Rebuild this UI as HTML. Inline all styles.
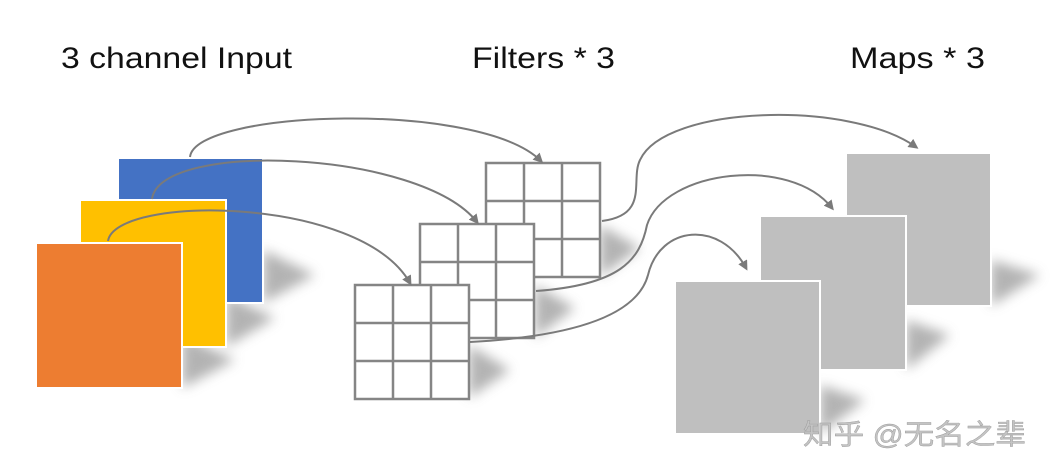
<!DOCTYPE html>
<html><head><meta charset="utf-8"><style>
html,body{margin:0;padding:0;background:#fff;}
svg{display:block;}
</style></head><body>
<svg width="1053" height="476" viewBox="0 0 1053 476" xmlns="http://www.w3.org/2000/svg">
<defs>
<filter id="b" x="-50%" y="-50%" width="200%" height="200%"><feGaussianBlur stdDeviation="6"/></filter>
<marker id="ar" markerWidth="10" markerHeight="10" refX="7" refY="5" orient="auto" markerUnits="userSpaceOnUse">
<path d="M0,0 L10,5 L0,10 z" fill="#7a7a7a"/></marker>
<g id="grid">
<rect x="0" y="0" width="114" height="114" fill="#fff" stroke="#858585" stroke-width="2.5"/>
<path d="M38,0V114M76,0V114M0,38H114M0,76H114" stroke="#858585" stroke-width="2.5"/>
</g>
</defs>
<g font-family="'Liberation Sans','DejaVu Sans',sans-serif" font-size="30" fill="#111">
<text x="61" y="68" textLength="231" lengthAdjust="spacingAndGlyphs">3 channel Input</text>
<text x="472" y="68" textLength="143" lengthAdjust="spacingAndGlyphs">Filters * 3</text>
<text x="850" y="68" textLength="135" lengthAdjust="spacingAndGlyphs">Maps * 3</text>
</g>
<!-- shadows -->
<g fill="#9a9a9a" opacity="0.75" filter="url(#b)">
<polygon points="263,250 315,275 263,303"/>
<polygon points="226,295 275,318 226,347"/>
<polygon points="182,335 235,360 182,388"/>
<polygon points="600,225 640,248 600,277"/>
<polygon points="535,285 575,308 535,338"/>
<polygon points="469,345 510,370 469,398"/>
<polygon points="991,260 1040,275 991,306"/>
<polygon points="906,320 950,335 906,370"/>
<polygon points="820,385 865,400 820,434"/>
</g>
<!-- input squares -->
<rect x="118" y="158" width="145" height="145" fill="#4472c4" stroke="#fff" stroke-width="2"/>
<rect x="80" y="200" width="146" height="147" fill="#ffc000" stroke="#fff" stroke-width="2"/>
<rect x="36" y="243" width="146" height="145" fill="#ed7d31" stroke="#fff" stroke-width="2"/>
<!-- grids -->
<use href="#grid" x="486" y="163"/>
<use href="#grid" x="420" y="224"/>
<use href="#grid" x="355" y="285"/>
<!-- maps -->
<rect x="846" y="153" width="145" height="153" fill="#bfbfbf" stroke="#fff" stroke-width="2"/>
<rect x="760" y="216" width="146" height="154" fill="#bfbfbf" stroke="#fff" stroke-width="2"/>
<rect x="675" y="281" width="145" height="153" fill="#bfbfbf" stroke="#fff" stroke-width="2"/>
<!-- arrows -->
<g fill="none" stroke="#7a7a7a" stroke-width="2" marker-end="url(#ar)">
<path d="M190,157 C195,110 480,100 541,161"/>
<path d="M152,199 C160,140 420,150 477,222"/>
<path d="M108,241 C115,195 360,195 410,283"/>
<path d="M602,221 C650,215 630,180 640,160 C665,105 850,100 916,147"/>
<path d="M536,291 C620,285 640,260 647,225 C665,170 790,155 832,208"/>
<path d="M470,342 C600,335 640,305 648,275 C660,225 720,220 746,268"/>
</g>
<text x="803" y="444" font-family="'Liberation Sans','Noto Sans CJK SC',sans-serif" font-size="28" fill="#c4c4c4" stroke="#999" stroke-width="0.4" textLength="223" lengthAdjust="spacingAndGlyphs">知乎 @无名之辈</text>
</svg>
</body></html>
